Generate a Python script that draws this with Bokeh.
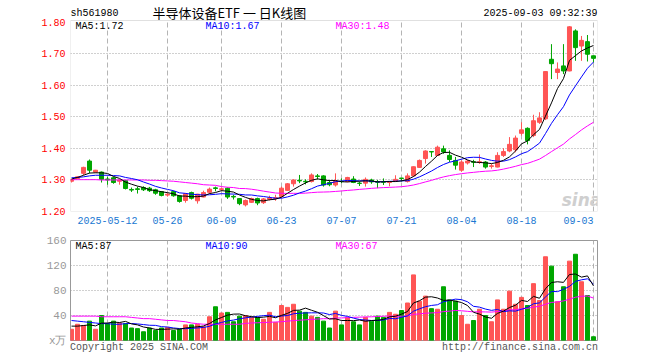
import numpy as np
import pandas as pd
from bokeh.plotting import figure
from bokeh.layouts import column
from bokeh.models import ColumnDataSource, FixedTicker, Label, NumeralTickFormatter, BoxAnnotation
from bokeh.embed import file_html
from bokeh.resources import INLINE

# ---------------- data ----------------
holidays = ["2025-05-01", "2025-05-02", "2025-05-05", "2025-06-02"]
dates = [d.strftime("%Y-%m-%d") for d in pd.bdate_range("2025-04-29", "2025-09-03")
         if d.strftime("%Y-%m-%d") not in holidays]

open_ = [1.296, 1.305, 1.321, 1.360, 1.325, 1.325, 1.303, 1.307, 1.296, 1.298,
         1.270, 1.272, 1.276, 1.274, 1.269, 1.263, 1.252, 1.263, 1.250, 1.235,
         1.260, 1.234, 1.246, 1.261, 1.275, 1.270, 1.274, 1.248, 1.241, 1.221,
         1.229, 1.241, 1.228, 1.239, 1.242, 1.248, 1.267, 1.288, 1.299, 1.296,
         1.295, 1.313, 1.313, 1.292, 1.284, 1.296, 1.295, 1.303, 1.290, 1.290,
         1.300, 1.294, 1.294, 1.292, 1.297, 1.306, 1.295, 1.313, 1.340, 1.368,
         1.390, 1.378, 1.399, 1.378, 1.362, 1.331, 1.354, 1.358, 1.356, 1.357,
         1.343, 1.341, 1.378, 1.392, 1.396, 1.448, 1.464, 1.441, 1.483, 1.494,
         1.683, 1.641, 1.662, 1.646, 1.773, 1.725, 1.739, 1.694]
close = [1.302, 1.310, 1.340, 1.331, 1.331, 1.302, 1.300, 1.292, 1.300, 1.273,
         1.268, 1.270, 1.269, 1.266, 1.258, 1.251, 1.255, 1.250, 1.232, 1.256,
         1.242, 1.255, 1.260, 1.271, 1.273, 1.272, 1.246, 1.246, 1.225, 1.235,
         1.241, 1.227, 1.240, 1.243, 1.244, 1.274, 1.288, 1.300, 1.297, 1.294,
         1.316, 1.311, 1.284, 1.285, 1.297, 1.295, 1.308, 1.292, 1.289, 1.302,
         1.294, 1.293, 1.293, 1.293, 1.302, 1.305, 1.313, 1.342, 1.362, 1.392,
         1.389, 1.404, 1.389, 1.365, 1.347, 1.357, 1.360, 1.356, 1.358, 1.341,
         1.345, 1.378, 1.390, 1.413, 1.433, 1.459, 1.425, 1.488, 1.497, 1.644,
         1.669, 1.652, 1.646, 1.786, 1.720, 1.743, 1.699, 1.686]
high = [1.303, 1.312, 1.342, 1.365, 1.332, 1.327, 1.310, 1.310, 1.302, 1.300,
        1.276, 1.279, 1.280, 1.278, 1.272, 1.265, 1.258, 1.266, 1.252, 1.258,
        1.263, 1.256, 1.266, 1.276, 1.279, 1.276, 1.276, 1.253, 1.242, 1.238,
        1.244, 1.244, 1.243, 1.250, 1.253, 1.279, 1.290, 1.302, 1.316, 1.302,
        1.321, 1.319, 1.315, 1.300, 1.321, 1.305, 1.310, 1.312, 1.295, 1.308,
        1.304, 1.300, 1.305, 1.294, 1.315, 1.306, 1.321, 1.343, 1.365, 1.394,
        1.391, 1.409, 1.409, 1.394, 1.373, 1.362, 1.364, 1.364, 1.381, 1.360,
        1.352, 1.388, 1.401, 1.436, 1.441, 1.483, 1.467, 1.507, 1.515, 1.645,
        1.731, 1.673, 1.731, 1.788, 1.778, 1.757, 1.760, 1.694]
low = [1.292, 1.303, 1.315, 1.321, 1.323, 1.292, 1.285, 1.288, 1.285, 1.270,
       1.262, 1.257, 1.265, 1.262, 1.253, 1.248, 1.247, 1.247, 1.228, 1.228,
       1.238, 1.225, 1.245, 1.256, 1.264, 1.265, 1.240, 1.238, 1.220, 1.216,
       1.227, 1.220, 1.224, 1.235, 1.234, 1.242, 1.265, 1.279, 1.290, 1.286,
       1.292, 1.302, 1.279, 1.280, 1.279, 1.290, 1.293, 1.290, 1.281, 1.279,
       1.288, 1.274, 1.284, 1.280, 1.295, 1.295, 1.292, 1.310, 1.338, 1.352,
       1.373, 1.376, 1.383, 1.357, 1.333, 1.326, 1.349, 1.341, 1.351, 1.336,
       1.336, 1.340, 1.373, 1.388, 1.388, 1.441, 1.413, 1.436, 1.478, 1.490,
       1.620, 1.620, 1.636, 1.645, 1.678, 1.678, 1.676, 1.673]
volume = [18, 26, 24, 31, 18, 40, 27, 31, 28, 27,
          20, 19, 14, 20, 16, 20, 21, 16, 18, 25,
          25, 26, 22, 38, 54, 44, 45, 30, 39, 40,
          37, 37, 34, 45, 29, 56, 53, 58, 47, 45,
          39, 37, 31, 20, 47, 25, 37, 30, 25, 37,
          31, 39, 37, 45, 42, 48, 60, 105, 63, 71,
          51, 50, 86, 65, 63, 40, 26, 32, 50, 40,
          30, 65, 50, 79, 58, 69, 56, 91, 64, 134,
          119, 62, 86, 127, 138, 94, 72, 6]

# moving-average values before enough history is on screen
ma5_head = [1.303, 1.308, 1.315, 1.322]
ma10_head = [1.307, 1.308, 1.310, 1.313, 1.315, 1.315, 1.315, 1.314, 1.313]
ma30_head = [1.301, 1.301, 1.301, 1.301, 1.301, 1.300, 1.300, 1.300, 1.300, 1.300,
             1.300, 1.300, 1.300, 1.299, 1.299, 1.298, 1.297, 1.296, 1.294, 1.292,
             1.290, 1.288, 1.285, 1.284, 1.283, 1.279, 1.277, 1.276, 1.273]
vma5_head = [23, 23, 24, 25]
vma10_head = [32, 31, 30, 29, 28, 27, 27, 26, 26]
vma30_head = [39, 39, 39, 39, 39, 38, 38, 38, 38, 38, 37, 36, 35, 35, 34,
              33, 32, 32, 31, 30, 28, 27, 26, 26, 26, 26, 26, 26, 26]

tick_dates = ["2025-05-12", "2025-05-26", "2025-06-09", "2025-06-23", "2025-07-07",
              "2025-07-21", "2025-08-04", "2025-08-18", "2025-09-03"]
tick_labels = ["2025-05-12", "05-26", "06-09", "06-23", "07-07",
               "07-21", "08-04", "08-18", "09-03"]
price_ticks = [1.20, 1.30, 1.40, 1.50, 1.60, 1.70, 1.80]
vol_ticks = [0, 40, 80, 120, 160]

# ---------------- derived ----------------
n = len(close)
idx = list(range(n))
o = np.array(open_); c = np.array(close)
RED, GREEN = "#ff5555", "#00a600"
colors = [RED if cc >= oo else GREEN for oo, cc in zip(o, c)]


def ma(series, k, head):
    r = pd.Series(series, dtype=float).rolling(k).mean().tolist()
    return list(head) + r[len(head):]


ma5 = ma(close, 5, ma5_head)
ma10 = ma(close, 10, ma10_head)
ma30 = ma(close, 30, ma30_head)
vma5 = ma(volume, 5, vma5_head)
vma10 = ma(volume, 10, vma10_head)
vma30 = ma(volume, 30, vma30_head)

src = ColumnDataSource(dict(x=idx, open=open_, close=close, high=high, low=low,
                            top=np.maximum(o, c), bottom=np.minimum(o, c),
                            vol=volume, color=colors))
tick_idx = [dates.index(d) for d in tick_dates]
# the last date label is drawn right-aligned against its grid line
label_pos = tick_idx[:-1] + [tick_idx[-1] - 2.5]

MONO = "Liberation Mono"
CJK = "Noto Sans CJK SC"
GRID_V = "#b4b4b4"
GRID_H = "#a0a0a0"
BORDER = "#999999"
X0, X1 = -0.17, 87.67
PLO, PHI = 1.20, 1.806          # price panel box
PTOP = 1.8695                   # frame extends up to hold the header line
W = 655
ML, MR = 70, W - 70 - 527


def plain_axis(ax, color, size, standoff):
    ax.major_label_text_color = color
    ax.major_label_text_font = MONO
    ax.major_label_text_font_size = size
    ax.axis_line_color = None
    ax.major_tick_line_color = None
    ax.minor_tick_line_color = None
    ax.major_tick_out = 0
    ax.major_tick_in = 0
    ax.minor_tick_out = 0
    ax.minor_tick_in = 0
    ax.major_label_standoff = standoff


# ---------------- price panel ----------------
p = figure(width=W, height=230, x_range=(X0, X1), y_range=(PLO, PTOP),
           output_backend="svg", toolbar_location=None,
           min_border_left=ML, min_border_right=MR, min_border_top=0, min_border_bottom=19)
p.outline_line_color = None
p.xgrid.visible = False
p.ygrid.ticker = FixedTicker(ticks=price_ticks[1:-1])
p.ygrid.grid_line_color = GRID_H
p.ygrid.grid_line_dash = "1 2"

p.yaxis.ticker = FixedTicker(ticks=price_ticks)
p.yaxis.formatter = NumeralTickFormatter(format="0.00")
plain_axis(p.yaxis[0], "#ff0000", "10px", 5)

p.xaxis.ticker = FixedTicker(ticks=label_pos)
p.xaxis.major_label_overrides = {pos: lab for pos, lab in zip(label_pos, tick_labels)}
plain_axis(p.xaxis[0], "#1a78d2", "10px", 5)

# vertical dashed grid lines, limited to the price box
p.segment(x0=tick_idx, y0=[PLO] * len(tick_idx), x1=tick_idx, y1=[PHI] * len(tick_idx),
          line_color=GRID_V, line_width=1, line_dash="5 3")
p.add_layout(BoxAnnotation(left=X0, right=X1, bottom=PLO, top=PHI, fill_color=None,
                           line_color=BORDER, line_width=1))

p.segment(x0="x", y0="low", x1="x", y1="high", line_color="color", line_width=1, source=src)
p.vbar(x="x", width=0.667, top="top", bottom="bottom", fill_color="color",
       line_color="color", line_width=1, source=src)
p.line(idx, ma30, line_color="#ff00ff", line_width=1)
p.line(idx, ma10, line_color="#0000ff", line_width=1)
p.line(idx, ma5, line_color="#000000", line_width=1)

p.add_layout(Label(x=85, y=1.235, text="sina", text_align="center", text_baseline="middle",
                   text_font="DejaVu Sans", text_font_style="bold italic", text_font_size="17px",
                   text_color="#cfcfcf"))

hy = 1.8282
p.add_layout(Label(x=X0, y=hy, text="sh561980", text_align="left", text_baseline="middle",
                   text_font=MONO, text_font_size="10px", text_color="#000000"))
p.add_layout(Label(x=26.3, y=1.8314, text="半导体设备ETF 一 日K线图", text_align="center",
                   text_baseline="middle", text_font=CJK, text_font_size="13px",
                   text_color="#000000"))
p.add_layout(Label(x=X1, y=hy, text="2025-09-03 09:32:39", text_align="right",
                   text_baseline="middle", text_font=MONO, text_font_size="10px",
                   text_color="#000000"))

my = 1.787
for xx, txt, col in [(0.67, "MA5:1.72", "#000000"), (22.33, "MA10:1.67", "#0000ff"),
                     (44.0, "MA30:1.48", "#ff00ff")]:
    p.add_layout(Label(x=xx, y=my, text=txt, text_align="left", text_baseline="middle",
                       text_font=MONO, text_font_size="10px", text_color=col))

# ---------------- volume panel ----------------
v = figure(width=W, height=125, x_range=p.x_range, y_range=(0, 160),
           output_backend="svg", toolbar_location=None,
           min_border_left=ML, min_border_right=MR, min_border_top=10, min_border_bottom=14)
v.outline_line_color = BORDER
v.xgrid.ticker = FixedTicker(ticks=tick_idx)
v.xgrid.grid_line_color = GRID_V
v.xgrid.grid_line_dash = "5 3"
v.ygrid.ticker = FixedTicker(ticks=vol_ticks[1:-1])
v.ygrid.grid_line_color = GRID_H
v.ygrid.grid_line_dash = "1 2"

v.yaxis.ticker = FixedTicker(ticks=vol_ticks)
v.yaxis.major_label_overrides = {0: "x万"}
plain_axis(v.yaxis[0], "#999999", "11px", 4)

# footer texts carried by the bottom axis
foot_pos = [11.25, 74.75]
foot_txt = ["Copyright 2025 SINA.COM", "http://finance.sina.com.cn"]
v.xaxis.ticker = FixedTicker(ticks=foot_pos)
v.xaxis.major_label_overrides = {pos: t for pos, t in zip(foot_pos, foot_txt)}
plain_axis(v.xaxis[0], "#555555", "10px", 1)

v.vbar(x="x", width=0.667, top="vol", bottom=0, fill_color="color",
       line_color="color", line_width=1, source=src)
v.line(idx, vma30, line_color="#ff00ff", line_width=1)
v.line(idx, vma10, line_color="#0000ff", line_width=1)
v.line(idx, vma5, line_color="#000000", line_width=1)

vy = 150.5
for xx, txt, col in [(0.67, "MA5:87", "#000000"), (22.33, "MA10:90", "#0000ff"),
                     (44.0, "MA30:67", "#ff00ff")]:
    v.add_layout(Label(x=xx, y=vy, text=txt, text_align="left", text_baseline="middle",
                       text_font=MONO, text_font_size="10px", text_color=col))

layout = column(p, v)
open("out.html", "w").write(file_html(layout, INLINE))
